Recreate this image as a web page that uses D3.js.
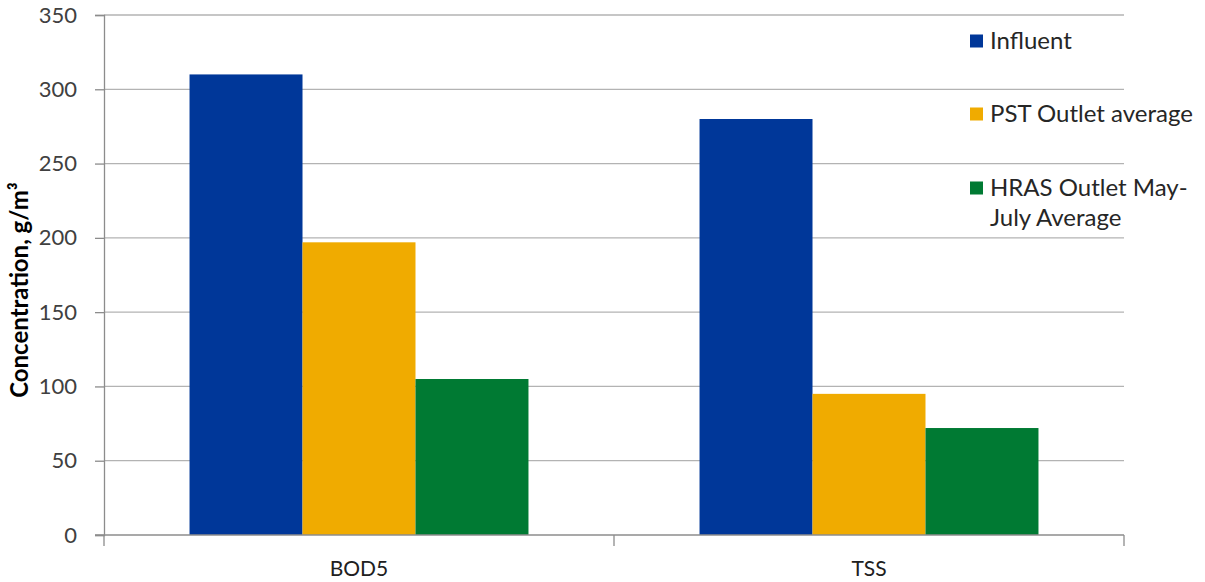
<!DOCTYPE html>
<html>
<head>
<meta charset="utf-8">
<script src="https://cdn.jsdelivr.net/npm/d3@7"></script>
<style>
body { margin: 0; background: #fff; }
svg { font-family: Lato, "Open Sans", sans-serif; }
</style>
</head>
<body>
<svg id="chart"></svg>
<script>
// chart data
var categories = ["BOD5", "TSS"];
var seriesNames = ["Influent", "PST Outlet average", "HRAS Outlet May-July Average"];
var influent = [310, 280];
var pstOutlet = [197, 95];
var hrasOutlet = [105, 72];
var yTicks = [0, 50, 100, 150, 200, 250, 300, 350];
var colors = ["#003799", "#f0ab00", "#007a33"];

var screen = {width: 1205, height: 582}
var margins = {top: 15, right: 81, bottom: 47, left: 104}
var width = screen.width - margins.left - margins.right;
var height = screen.height - margins.top - margins.bottom;

var svg = d3.select("#chart")
    .attr("width", screen.width)
    .attr("height", screen.height);

var g = svg.append("g")
    .attr("transform", "translate(" + margins.left + "," + margins.top + ")");

var x = d3.scaleBand().domain(categories).range([0, width]);
var inner = d3.scaleBand().domain(seriesNames)
    .range([0, x.bandwidth()]).paddingOuter(0.757);
var y = d3.scaleLinear().domain([0, 350]).range([height, 0]);

// gridlines
g.selectAll(".grid")
    .data(yTicks.filter(function(t) { return t > 0 }))
    .enter().append("line")
    .attr("x1", 0).attr("x2", width)
    .attr("y1", function(d) { return y(d) }).attr("y2", function(d) { return y(d) })
    .attr("stroke", "#b3b3b3").attr("stroke-width", 1.3);

// bars
var rows = categories.map(function(c, i) {
    return {cat: c, vals: [influent[i], pstOutlet[i], hrasOutlet[i]]}
});
var groups = g.selectAll(".grp").data(rows).enter().append("g")
    .attr("transform", function(d) { return "translate(" + x(d.cat) + ",0)" });
groups.selectAll("rect")
    .data(function(d) { return d.vals.map(function(v, j) { return {s: seriesNames[j], v: v, j: j} }) })
    .enter().append("rect")
    .attr("x", function(d) { return inner(d.s) })
    .attr("width", inner.bandwidth())
    .attr("y", function(d) { return y(d.v) })
    .attr("height", function(d) { return height - y(d.v) })
    .attr("fill", function(d) { return colors[d.j] });

// y axis
var yAxis = g.append("g")
    .call(d3.axisLeft(y).tickValues(yTicks).tickSize(9).tickPadding(18));
yAxis.select(".domain").attr("stroke", "#8c8c8c").attr("stroke-width", 1.3);
yAxis.selectAll(".tick line").attr("stroke", "#8c8c8c").attr("stroke-width", 1.3);
yAxis.selectAll(".tick text").attr("fill", "#404040")
    .style("font-size", "22px").style("font-family", "Lato, sans-serif");

// x axis
var xAxis = g.append("g").attr("transform", "translate(0," + height + ")");
xAxis.append("line").attr("x1", -9).attr("x2", width)
    .attr("stroke", "#8c8c8c").attr("stroke-width", 1.3);
xAxis.selectAll(".xt").data([0].concat(categories.map(function(c) { return x(c) + x.bandwidth() })))
    .enter().append("line")
    .attr("x1", function(d) { return d }).attr("x2", function(d) { return d })
    .attr("y1", 0).attr("y2", 11)
    .attr("stroke", "#8c8c8c").attr("stroke-width", 1.3);
xAxis.selectAll(".xl").data(categories).enter().append("text")
    .attr("x", function(d) { return x(d) + x.bandwidth() / 2 })
    .attr("y", 41)
    .attr("text-anchor", "middle")
    .attr("fill", "#202020")
    .style("font-size", "21px")
    .text(function(d) { return d });

// y title
svg.append("text")
    .attr("transform", "translate(28," + (margins.top + height / 2 + 15) + ") rotate(-90)")
    .attr("text-anchor", "middle")
    .attr("fill", "#000")
    .style("font-size", "24px").style("font-weight", "bold")
    .text("Concentration, g/m\u00b3");

// legend
var legendRows = [
    {lines: ["Influent"], y: 41},
    {lines: ["PST Outlet average"], y: 114},
    {lines: ["HRAS Outlet May-", "July Average"], y: 188}
];
var leg = svg.append("g");
legendRows.forEach(function(r, i) {
    leg.append("rect").attr("x", 970).attr("y", r.y - 6.5)
        .attr("width", 13).attr("height", 13).attr("fill", colors[i]);
    r.lines.forEach(function(t, k) {
        leg.append("text").attr("x", 990).attr("y", r.y + 8 + k * 30)
            .attr("fill", "#262626")
            .style("font-size", "24px")
            .text(t);
    });
});
</script>
</body>
</html>
